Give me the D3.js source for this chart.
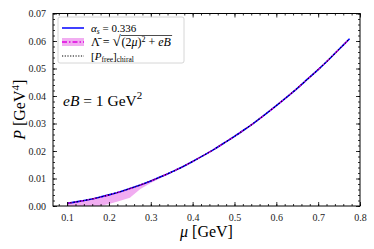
<!DOCTYPE html>
<html>
<head>
<meta charset="utf-8">
<script src="https://cdn.jsdelivr.net/npm/d3@7"></script>
<style>
  body { margin: 0; background: #fff; }
  text { font-family: "Liberation Serif", "DejaVu Serif", serif; }
</style>
</head>
<body>
<div id="chart"></div>
<script>
// values
var mu = [0.100, 0.125, 0.150, 0.175, 0.200, 0.225, 0.250, 0.275, 0.300, 0.325,
          0.350, 0.375, 0.400, 0.425, 0.450, 0.475, 0.500, 0.525, 0.550, 0.575,
          0.600, 0.625, 0.650, 0.675, 0.700, 0.725, 0.750, 0.775];
var pAlpha = [0.00101, 0.00158, 0.00228, 0.00310, 0.00405, 0.00513, 0.00633, 0.00766, 0.00912, 0.0107,
              0.0124, 0.0142, 0.0162, 0.0183, 0.0205, 0.0229, 0.0253, 0.0279, 0.0306, 0.0335,
              0.0365, 0.0396, 0.0428, 0.0462, 0.0496, 0.0532, 0.0570, 0.0608];
var pLambda = [0.00100, 0.00157, 0.00226, 0.00308, 0.00402, 0.00510, 0.00630, 0.00764, 0.00910, 0.0107,
               0.0124, 0.0142, 0.0162, 0.0183, 0.0205, 0.0229, 0.0253, 0.0279, 0.0306, 0.0335,
               0.0365, 0.0396, 0.0428, 0.0462, 0.0496, 0.0532, 0.0570, 0.0608];
var bandLow = [-0.0010, -0.0008, -0.0005, -0.0001, 0.0007, 0.0018, 0.0030, 0.0062, 0.0084, 0.0103,
               0.0121, 0.0140, 0.0161, 0.0182, 0.0204, 0.0228, 0.0252, 0.0278, 0.0305, 0.0334,
               0.0364, 0.0395, 0.0427, 0.0461, 0.0495, 0.0531, 0.0569, 0.0607];
var bandHigh = [0.00104, 0.00161, 0.00231, 0.00313, 0.00408, 0.00516, 0.00636, 0.00769, 0.00915, 0.0108,
                0.0125, 0.0143, 0.0163, 0.0184, 0.0206, 0.0230, 0.0254, 0.0280, 0.0307, 0.0336,
                0.0366, 0.0397, 0.0429, 0.0463, 0.0497, 0.0533, 0.0571, 0.0609];
var pFree = pAlpha.slice();

var xTicks = [0.1, 0.2, 0.3, 0.4, 0.5, 0.6, 0.7, 0.8];
var yTicks = [0.00, 0.01, 0.02, 0.03, 0.04, 0.05, 0.06, 0.07];

var width = 374, height = 249;
var margin = {left: 53, right: 14, top: 13.5, bottom: 43};
var pw = width - margin.left - margin.right;
var ph = height - margin.top - margin.bottom;

var svg = d3.select("#chart").append("svg")
    .attr("width", width).attr("height", height);

var x = d3.scaleLinear().domain([0.06625, 0.8]).range([0, pw]);
var y = d3.scaleLinear().domain([0, 0.07]).range([ph, 0]);

var g = svg.append("g").attr("transform", "translate(" + margin.left + "," + margin.top + ")");

g.append("clipPath").attr("id", "clip")
  .append("rect").attr("width", pw).attr("height", ph);

var plot = g.append("g").attr("clip-path", "url(#clip)");

var idx = d3.range(mu.length);

// band
plot.append("path")
    .datum(idx)
    .attr("d", d3.area()
        .x(function(i) { return x(mu[i]); })
        .y0(function(i) { return y(bandLow[i]); })
        .y1(function(i) { return y(bandHigh[i]); }))
    .style("fill", "#dd33dd")
    .style("fill-opacity", 0.4)
    .style("stroke", "none");

function line(vals) {
    return d3.line()
        .x(function(i) { return x(mu[i]); })
        .y(function(i) { return y(vals[i]); })
        .curve(d3.curveMonotoneX)(idx);
}

plot.append("path").attr("d", line(pAlpha))
    .style("fill", "none").style("stroke", "#0000ff").style("stroke-width", 1.6);
plot.append("path").attr("d", line(pLambda))
    .style("fill", "none").style("stroke", "#e000e0").style("stroke-width", 1.1)
    .style("stroke-dasharray", "5,3,1.5,3");
plot.append("path").attr("d", line(pFree))
    .style("fill", "none").style("stroke", "black").style("stroke-width", 1.1)
    .style("stroke-dasharray", "1.2,2");

// axes, ticks inward on all sides
function minor(domain, step) {
    var out = [];
    for (var v = Math.ceil(domain[0] / step) * step; v <= domain[1] + 1e-9; v += step) out.push(+v.toFixed(5));
    return out;
}
var xMinor = minor(x.domain(), 0.02);
var yMinor = minor(y.domain(), 0.002);

function styleAxis(sel) {
    sel.select(".domain").remove();
    sel.selectAll("line").style("stroke", "black").style("stroke-width", 0.8);
    sel.selectAll("text").style("font-size", "10px").style("fill", "#222");
}

g.append("g").attr("transform", "translate(0," + ph + ")")
    .call(d3.axisBottom(x).tickValues(xMinor).tickSize(-2).tickFormat(""))
    .call(styleAxis);
g.append("g").attr("transform", "translate(0," + ph + ")")
    .call(d3.axisBottom(x).tickValues(xTicks).tickSize(-4).tickPadding(8).tickFormat(d3.format(".1f")))
    .call(styleAxis);
g.append("g")
    .call(d3.axisTop(x).tickValues(xMinor).tickSize(-2).tickFormat(""))
    .call(styleAxis);
g.append("g")
    .call(d3.axisTop(x).tickValues(xTicks).tickSize(-4).tickFormat(""))
    .call(styleAxis);

g.append("g")
    .call(d3.axisLeft(y).tickValues(yMinor).tickSize(-2).tickFormat(""))
    .call(styleAxis);
g.append("g")
    .call(d3.axisLeft(y).tickValues(yTicks).tickSize(-4).tickPadding(7).tickFormat(d3.format(".2f")))
    .call(styleAxis);
g.append("g").attr("transform", "translate(" + pw + ",0)")
    .call(d3.axisRight(y).tickValues(yMinor).tickSize(-2).tickFormat(""))
    .call(styleAxis);
g.append("g").attr("transform", "translate(" + pw + ",0)")
    .call(d3.axisRight(y).tickValues(yTicks).tickSize(-4).tickFormat(""))
    .call(styleAxis);

g.append("rect").attr("width", pw).attr("height", ph)
    .style("fill", "none").style("stroke", "black").style("stroke-width", 1);

// axis labels
var xl = svg.append("text")
    .attr("x", margin.left + pw / 2).attr("y", 237)
    .attr("text-anchor", "middle").style("font-size", "16px");
xl.append("tspan").style("font-style", "italic").text("μ");
xl.append("tspan").text(" [GeV]");

var yl = svg.append("text")
    .attr("transform", "translate(25," + (margin.top + ph / 2) + ") rotate(-90)")
    .attr("text-anchor", "middle").style("font-size", "16px");
yl.append("tspan").style("font-style", "italic").text("P");
yl.append("tspan").text(" [GeV");
yl.append("tspan").attr("dy", -6).style("font-size", "11px").text("4");
yl.append("tspan").attr("dy", 6).text("]");

// annotation
var an = svg.append("text").attr("x", 63).attr("y", 106).style("font-size", "15.5px");
an.append("tspan").style("font-style", "italic").text("eB");
an.append("tspan").text(" = 1 GeV");
an.append("tspan").attr("dy", -7).style("font-size", "11px").text("2");

// legend
var lg = svg.append("g");
lg.append("rect").attr("x", 58).attr("y", 17).attr("width", 126).attr("height", 46).attr("rx", 2)
    .style("fill", "white").style("fill-opacity", 0.8).style("stroke", "#ccc").style("stroke-width", 0.8);

var rows = [28, 42, 56];
lg.append("line").attr("x1", 62).attr("x2", 84).attr("y1", rows[0]).attr("y2", rows[0])
    .style("stroke", "#0000ff").style("stroke-width", 1.5);
lg.append("rect").attr("x", 62).attr("y", rows[1] - 4).attr("width", 22).attr("height", 8)
    .style("fill", "#dd33dd").style("fill-opacity", 0.4);
lg.append("line").attr("x1", 62).attr("x2", 84).attr("y1", rows[1]).attr("y2", rows[1])
    .style("stroke", "#e000e0").style("stroke-width", 1.5).style("stroke-dasharray", "5,2,1.5,2");
lg.append("line").attr("x1", 62).attr("x2", 84).attr("y1", rows[2]).attr("y2", rows[2])
    .style("stroke", "black").style("stroke-width", 1.2).style("stroke-dasharray", "1.2,1.5");

var t1 = lg.append("text").attr("x", 91).attr("y", rows[0] + 4).style("font-size", "11px");
t1.append("tspan").style("font-style", "italic").text("α");
t1.append("tspan").attr("dy", 2).style("font-size", "7.5px").style("font-style", "italic").text("s");
t1.append("tspan").attr("dy", -2).text(" = 0.336");

var t2a = lg.append("text").attr("x", 91).attr("y", rows[1] + 4).style("font-size", "12px");
t2a.append("tspan").text("Λ̄");
t2a.append("tspan").attr("dx", 3).text("=");
t2a.append("tspan").attr("dx", 3).style("font-size", "15px").text("√");
var rx = t2a.node().getBBox();
var t2b = lg.append("text").attr("x", rx.x + rx.width).attr("y", rows[1] + 4).style("font-size", "12px");
t2b.append("tspan").text("(2");
t2b.append("tspan").style("font-style", "italic").text("μ");
t2b.append("tspan").text(")");
t2b.append("tspan").attr("dy", -4).style("font-size", "8px").text("2");
t2b.append("tspan").attr("dy", 4).attr("dx", 3).text("+");
t2b.append("tspan").attr("dx", 3).style("font-style", "italic").text("eB");
var bx = t2b.node().getBBox();
lg.append("line")
    .attr("x1", bx.x - 0.5).attr("x2", bx.x + bx.width + 0.5)
    .attr("y1", rows[1] - 6.5).attr("y2", rows[1] - 6.5)
    .style("stroke", "black").style("stroke-width", 0.7);

var t3 = lg.append("text").attr("x", 91).attr("y", rows[2] + 4).style("font-size", "11px");
t3.append("tspan").text("[");
t3.append("tspan").style("font-style", "italic").text("P");
t3.append("tspan").attr("dy", 2).style("font-size", "7.5px").text("free");
t3.append("tspan").attr("dy", -2).text("]");
t3.append("tspan").attr("dy", 2).style("font-size", "7.5px").text("chiral");
</script>
</body>
</html>
